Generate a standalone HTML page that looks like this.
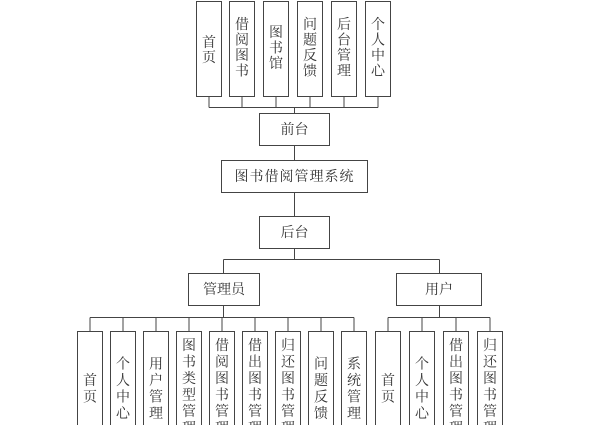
<!DOCTYPE html>
<html><head><meta charset="utf-8"><style>
html,body{margin:0;padding:0;background:#fff;width:600px;height:425px;overflow:hidden}
svg text{font-family:"Liberation Serif","Noto Serif CJK SC",serif;font-size:14px;fill:#333}
</style></head><body>
<svg width="600" height="425" viewBox="0 0 600 425" xmlns="http://www.w3.org/2000/svg">
<g fill="#fff" stroke="#444" stroke-width="1">
<rect x="196.5" y="1.5" width="25" height="95"/>
<rect x="229.5" y="1.5" width="25" height="95"/>
<rect x="263.5" y="1.5" width="25" height="95"/>
<rect x="297.5" y="1.5" width="25" height="95"/>
<rect x="331.5" y="1.5" width="25" height="95"/>
<rect x="365.5" y="1.5" width="25" height="95"/>
<rect x="259.5" y="113.5" width="70" height="32"/>
<rect x="221.5" y="160.5" width="146" height="32"/>
<rect x="259.5" y="216.5" width="70" height="32"/>
<rect x="188.5" y="273.5" width="71" height="32"/>
<rect x="396.5" y="273.5" width="85" height="32"/>
<rect x="77.5" y="331.5" width="25" height="110"/>
<rect x="110.5" y="331.5" width="25" height="110"/>
<rect x="143.5" y="331.5" width="25" height="110"/>
<rect x="176.5" y="331.5" width="25" height="110"/>
<rect x="209.5" y="331.5" width="25" height="110"/>
<rect x="242.5" y="331.5" width="25" height="110"/>
<rect x="275.5" y="331.5" width="25" height="110"/>
<rect x="308.5" y="331.5" width="25" height="110"/>
<rect x="341.5" y="331.5" width="25" height="110"/>
<rect x="375.5" y="331.5" width="25" height="110"/>
<rect x="409.5" y="331.5" width="25" height="110"/>
<rect x="443.5" y="331.5" width="25" height="110"/>
<rect x="477.5" y="331.5" width="25" height="110"/>
</g>
<g stroke="#444" stroke-width="1" fill="none">
<path d="M209 96.5V107.5M242 96.5V107.5M276 96.5V107.5M310 96.5V107.5M344 96.5V107.5M378 96.5V107.5M209 107.5H378M294.5 107.5V113.5"/>
<path d="M294.5 145.5V160.5M294.5 192.5V216.5M294.5 248.5V259.5M223.5 259.5H439.5M223.5 259.5V273.5M439.5 259.5V273.5"/>
<path d="M223.5 305.5V317.5M90 317.5H354M90 317.5V331.5M123 317.5V331.5M156 317.5V331.5M189 317.5V331.5M222 317.5V331.5M255 317.5V331.5M288 317.5V331.5M321 317.5V331.5M354 317.5V331.5"/>
<path d="M439.5 305.5V317.5M388 317.5H490M388 317.5V331.5M422 317.5V331.5M456 317.5V331.5M490 317.5V331.5"/>
</g>
<g text-anchor="middle">
<text x="209" y="47">首</text><text x="209" y="62">页</text>
<text x="242" y="29">借</text><text x="242" y="44.5">阅</text><text x="242" y="60">图</text><text x="242" y="75.5">书</text>
<text x="276" y="37">图</text><text x="276" y="52.5">书</text><text x="276" y="68">馆</text>
<text x="310" y="29">问</text><text x="310" y="44.5">题</text><text x="310" y="60">反</text><text x="310" y="75.5">馈</text>
<text x="344" y="29">后</text><text x="344" y="44.5">台</text><text x="344" y="60">管</text><text x="344" y="75.5">理</text>
<text x="378" y="29">个</text><text x="378" y="44.5">人</text><text x="378" y="60">中</text><text x="378" y="75.5">心</text>
<text x="294.5" y="134">前台</text>
<text x="294.5" y="181" letter-spacing="1">图书借阅管理系统</text>
<text x="294.5" y="237">后台</text>
<text x="224" y="294">管理员</text>
<text x="439" y="294">用户</text>
</g>
<g text-anchor="middle">
<text x="90" y="385">首</text><text x="90" y="401.5">页</text>
<text x="123" y="368.5">个</text><text x="123" y="385">人</text><text x="123" y="401.5">中</text><text x="123" y="418">心</text>
<text x="156" y="368.5">用</text><text x="156" y="385">户</text><text x="156" y="401.5">管</text><text x="156" y="418">理</text>
<text x="189" y="350">图</text><text x="189" y="366.5">书</text><text x="189" y="383">类</text><text x="189" y="399.5">型</text><text x="189" y="416">管</text><text x="189" y="432.5">理</text>
<text x="222" y="350">借</text><text x="222" y="366.5">阅</text><text x="222" y="383">图</text><text x="222" y="399.5">书</text><text x="222" y="416">管</text><text x="222" y="432.5">理</text>
<text x="255" y="350">借</text><text x="255" y="366.5">出</text><text x="255" y="383">图</text><text x="255" y="399.5">书</text><text x="255" y="416">管</text><text x="255" y="432.5">理</text>
<text x="288" y="350">归</text><text x="288" y="366.5">还</text><text x="288" y="383">图</text><text x="288" y="399.5">书</text><text x="288" y="416">管</text><text x="288" y="432.5">理</text>
<text x="321" y="368.5">问</text><text x="321" y="385">题</text><text x="321" y="401.5">反</text><text x="321" y="418">馈</text>
<text x="354" y="368.5">系</text><text x="354" y="385">统</text><text x="354" y="401.5">管</text><text x="354" y="418">理</text>
<text x="388" y="385">首</text><text x="388" y="401.5">页</text>
<text x="422" y="368.5">个</text><text x="422" y="385">人</text><text x="422" y="401.5">中</text><text x="422" y="418">心</text>
<text x="456" y="350">借</text><text x="456" y="366.5">出</text><text x="456" y="383">图</text><text x="456" y="399.5">书</text><text x="456" y="416">管</text><text x="456" y="432.5">理</text>
<text x="490" y="350">归</text><text x="490" y="366.5">还</text><text x="490" y="383">图</text><text x="490" y="399.5">书</text><text x="490" y="416">管</text><text x="490" y="432.5">理</text>
</g>
</svg>
</body></html>
